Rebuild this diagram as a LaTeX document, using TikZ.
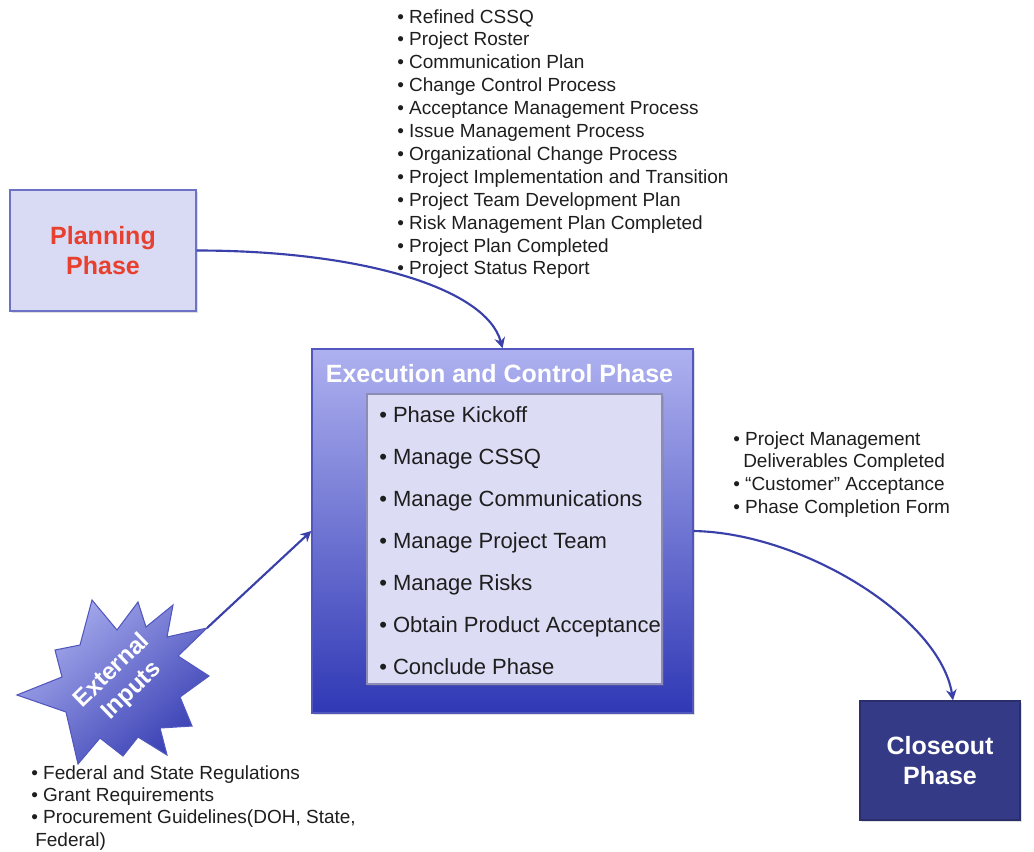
\documentclass[tikz,border=0pt]{standalone}
\usepackage{fontspec}
\setmainfont{Liberation Sans}
\usetikzlibrary{calc,shadows,arrows.meta}
\definecolor{planfill}{HTML}{D9DBF4}
\definecolor{planedge}{HTML}{6D72C6}
\definecolor{exectop}{HTML}{AEB1EF}
\definecolor{execbot}{HTML}{3038B5}
\definecolor{execedge}{HTML}{5257BE}
\definecolor{innerfill}{HTML}{DCDCF5}
\definecolor{inneredge}{HTML}{8C8CB4}
\definecolor{closefill}{HTML}{343A86}
\definecolor{arrowc}{HTML}{3A40AA}
\definecolor{planred}{HTML}{E8402F}
\definecolor{txt}{HTML}{1E1E1E}
\definecolor{startop}{HTML}{A9ADEE}
\definecolor{starbot}{HTML}{3A41B4}
\begin{document}
\begin{tikzpicture}[x=0.75pt,y=-0.75pt,
  boxshadow/.style={drop shadow={opacity=0.25,shadow xshift=1.2pt,shadow yshift=-1.2pt}},
  phasebox/.style={draw, line width=1.1pt, inner sep=0pt, align=center,
    font=\fontsize{18.75}{22.5}\selectfont\bfseries, boxshadow},
  conn/.style={draw=arrowc, line width=1.6pt, -{Stealth[length=8pt,width=8pt]}},
  smalllist/.style={anchor=base west, inner sep=0pt, text=txt,
    font=\fontsize{14.25}{17}\selectfont},
  biglist/.style={anchor=base west, inner sep=0pt, text=txt,
    font=\fontsize{16.5}{20}\selectfont},
  startext/.style={text=white, align=center, inner sep=0pt,
    font=\fontsize{18}{21}\selectfont\bfseries}
]
\useasboundingbox (0,0) rectangle (1034,851);

% Planning phase
\node[phasebox, draw=planedge, fill=planfill, text=planred,
  minimum width=139.5pt, minimum height=90.75pt] (plan) at (103,250.5) {Planning\\Phase};

% Execution and control phase
\node[phasebox, draw=execedge, top color=exectop, bottom color=execbot,
  minimum width=285.75pt, minimum height=273pt] (exec) at (502.5,531) {};
\node[anchor=base, inner sep=0pt, text=white,
  font=\fontsize{18.75}{22.5}\selectfont\bfseries] (exectitle) at (499.5,382) {Execution and Control Phase};
\node[draw=inneredge, line width=0.8pt, fill=innerfill, inner sep=0pt,
  minimum width=221.25pt, minimum height=217.5pt, boxshadow] (inner) at (514.5,539) {};
\foreach \t [count=\i] in {Phase Kickoff, Manage CSSQ, Manage Communications,
  Manage Project Team, Manage Risks, Obtain Product Acceptance, Conclude Phase}
  \node[biglist] (act\i) at (379,{422+42*(\i-1)}) {\textbullet\ \t};

% Closeout phase
\node[phasebox, draw=closefill!80!black, fill=closefill, text=white,
  minimum width=120pt, minimum height=89.25pt] (close) at (940,760.5) {Closeout\\Phase};

% External inputs star
\def\starpath{(92,600) -- (117,630) -- (138,602) -- (146,627) -- (173,605)
  -- (167,637) -- (207,628) -- (178,656) -- (209,676) -- (180,697) -- (192,726)
  -- (160,728) -- (167,755) -- (138,737) -- (123,756) -- (100,738) -- (78,764)
  -- (66,712) -- (17,695) -- (62,677) -- (55,650) -- (80,645) -- cycle}
\shade[top color=startop, bottom color=starbot, shading angle=40] \starpath;
\draw[draw=execedge, line width=0.8pt, line join=miter] \starpath;
\coordinate (startip) at (207,628);
\node[startext, rotate=44] (ext) at (122,681) {External\\Inputs};

% Top list (planning outputs)
\foreach \t [count=\i] in {Refined CSSQ, Project Roster, Communication Plan,
  Change Control Process, Acceptance Management Process, Issue Management Process,
  Organizational Change Process, Project Implementation and Transition,
  Project Team Development Plan, Risk Management Plan Completed,
  Project Plan Completed, Project Status Report}
  \node[smalllist] (top\i) at (397,{23+22.9*(\i-1)}) {\textbullet\ \t};

% Right list (execution outputs)
\node[smalllist] (r1) at (733,445) {\textbullet\ Project Management};
\node[smalllist] (r2) at (743,467.7) {Deliverables Completed};
\node[smalllist] (r3) at (733,490.4) {\textbullet\ ``Customer'' Acceptance};
\node[smalllist] (r4) at (733,513.1) {\textbullet\ Phase Completion Form};

% Bottom list (external inputs)
\node[smalllist] (b1) at (31,779) {\textbullet\ Federal and State Regulations};
\node[smalllist] (b2) at (31,801.4) {\textbullet\ Grant Requirements};
\node[smalllist] (b3) at (31,823.8) {\textbullet\ Procurement Guidelines(DOH, State,};
\node[smalllist] (b4) at (35,846.2) {Federal)};

% Connectors
\draw[conn] (plan.east) .. controls ($(plan.east)+(165,0)$) and ($(exec.north)+(-16,-60)$) .. (exec.north);
\draw[conn] (startip) -- (exec.west);
\draw[conn] (exec.east) .. controls ($(exec.east)+(110,2)$) and ($(close.north)+(0,-82)$) .. ($(close.north)+(13,0)$);
\end{tikzpicture}
\end{document}
